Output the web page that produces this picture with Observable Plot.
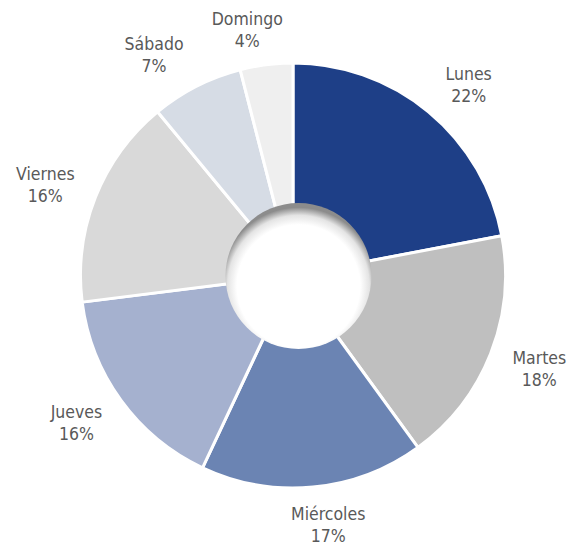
<!DOCTYPE html>
<html><head><meta charset="utf-8">
<script src="https://cdn.jsdelivr.net/npm/d3@7"></script>
<script src="https://cdn.jsdelivr.net/npm/@observablehq/plot@0.6"></script>
<style>body{margin:0;background:#fff}</style>
</head><body><div id="chart"></div>
<script>
const days = ["Lunes","Martes","Miércoles","Jueves","Viernes","Sábado","Domingo"];
const shares = [22,18,17,16,16,7,4];
const colors = ["#1e3f87","#bfbfbf","#6b84b3","#a5b1cf","#d9d9d9","#d6dce5","#efefef"];

const W = 567, H = 546;
const cx = 293, cy = 275.5, R = 212.5;   // pie centre and outer radius (px)
const holeR = 73, holeDx = 5;              // hole radius and offset (px)
const fontSize = 17.5, lineGap = 22, labelGap = 16.5;
const fontFamily = "'DejaVu Sans Condensed', 'DejaVu Sans', sans-serif";

const data = days.map((day, i) => ({day, share: shares[i]}));
const arcs = d3.pie().sort(null).value(d => d.share)(data);

// label placement (unit = outer radius), like spreadsheet "outside end" labels
const ctx = document.createElement("canvas").getContext("2d");
ctx.font = `${fontSize}px ${fontFamily}`;
const labels = arcs.map(a => {
  const ang = (a.startAngle + a.endAngle) / 2;
  const s = Math.sin(ang), c = -Math.cos(ang);
  const w = Math.max(ctx.measureText(a.data.day).width, ctx.measureText(a.data.share + "%").width);
  const base = R + labelGap;
  const px = s * base + Math.sign(s) * Math.min(Math.abs(s) * 140, w / 2 + 6);
  const py = c * base + c * (lineGap - 2);
  return {day: a.data.day, share: a.data.share, ux: px / R, uy: py / R};
});

function slices(index, scales) {
  const sx = scales.x, sy = scales.y;
  const color = scales.color || d3.scaleOrdinal(days, colors);
  const ox = sx(0), oy = sy(0), rad = sx(1) - sx(0);
  const g = d3.create("svg:g");
  const defs = g.append("defs");
  const grad = defs.append("radialGradient").attr("id", "holeGrad")
    .attr("cx", "50%").attr("cy", "57%").attr("r", "54%");
  grad.append("stop").attr("offset", "0").attr("stop-color", "#ffffff");
  grad.append("stop").attr("offset", "0.78").attr("stop-color", "#ffffff");
  grad.append("stop").attr("offset", "0.9").attr("stop-color", "#e4e4e4");
  grad.append("stop").attr("offset", "1").attr("stop-color", "#8c8c8c");
  const arc = d3.arc().innerRadius(0).outerRadius(rad);
  g.append("g").attr("transform", `translate(${ox},${oy})`)
    .selectAll("path").data(arcs).join("path")
    .attr("d", arc)
    .attr("fill", d => color(d.data.day))
    .attr("stroke", "#fff").attr("stroke-width", 3).attr("stroke-linejoin", "round");
  return g.node();
}

const chart = Plot.plot({
  width: W, height: H, margin: 0,
  x: {domain: [-cx / R, (W - cx) / R], range: [0, W], axis: null},
  y: {domain: [-cy / R, (H - cy) / R], range: [0, H], axis: null},
  color: {domain: days, range: colors},
  marks: [
    Plot.dot(data, {x: () => 0, y: () => 0, fill: "day", r: 0}),
    slices,
    Plot.dot([{hx: holeDx / R, hy: 0}], {x: "hx", y: "hy", r: holeR, fill: "url(#holeGrad)"}),
    Plot.text(labels, {
      x: "ux", y: "uy",
      text: d => `${d.day}\n${d.share}%`,
      fontSize, lineHeight: lineGap / fontSize,
      fill: "#595959", fontFamily, textAnchor: "middle"
    })
  ]
});
document.getElementById("chart").append(chart);
</script>
</body></html>
